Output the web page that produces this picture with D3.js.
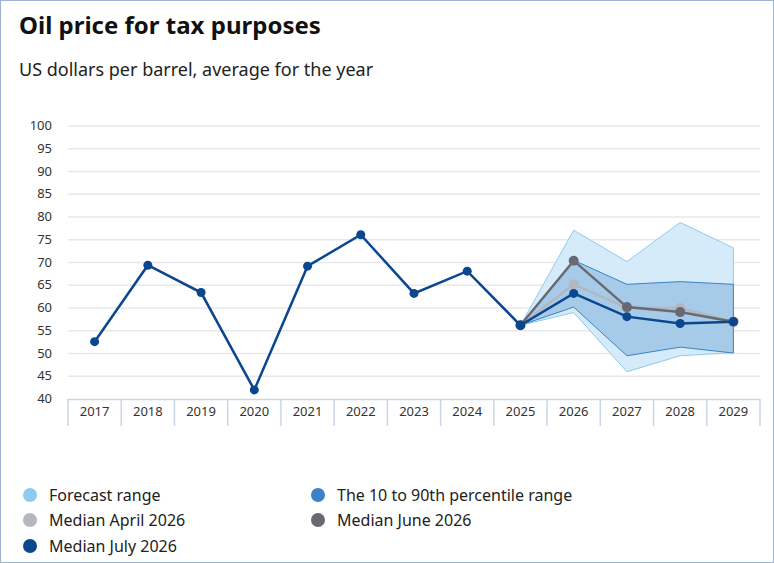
<!DOCTYPE html>
<html><head><meta charset="utf-8">
<script src="https://cdn.jsdelivr.net/npm/d3@7"></script>
<style>body{margin:0;font-family:"Noto Sans",sans-serif;}</style>
</head><body><div id="container"></div>
<script>
const years = [2017,2018,2019,2020,2021,2022,2023,2024,2025,2026,2027,2028,2029];
const history = [52.6,69.4,63.4,42.0,69.2,76.1,63.2,68.1,56.2];
const fcYears = [2025,2026,2027,2028,2029];
const medianJuly = [56.2,63.2,58.1,56.6,57.0];
const medianJune = [56.2,70.4,60.2,59.1,57.0];
const medianApril = [56.2,65.2,60.0,60.0,57.0];
const rangeHigh = [56.2,77.1,70.2,78.8,73.2];
const rangeLow = [56.2,59.0,46.0,49.5,50.2];
const pctHigh = [56.2,70.5,65.2,65.8,65.2];
const pctLow = [56.2,60.2,49.5,51.4,50.1];
const yTicks = d3.range(40,101,5);

const W = 774, H = 563;
const svg = d3.select("#container").append("svg").attr("width",W).attr("height",H);
svg.append("rect").attr("x",0.5).attr("y",0.5).attr("width",W-1).attr("height",H-1)
  .attr("fill","white").attr("stroke","#9fb4cf");

svg.append("text").attr("x",19).attr("y",34).attr("font-size",24).attr("font-weight",700)
  .attr("fill","#111").text("Oil price for tax purposes");
svg.append("text").attr("x",19).attr("y",76).attr("font-size",18).attr("fill","#222")
  .text("US dollars per barrel, average for the year");

const x = d3.scaleBand().domain(years).range([68,760]);
const cx = d => x(d) + x.bandwidth()/2;
const y = d3.scaleLinear().domain([40,100]).range([399,126]);

svg.selectAll(".grid").data(yTicks.slice(1)).join("line")
  .attr("x1",68).attr("x2",760).attr("y1",d=>y(d)).attr("y2",d=>y(d))
  .attr("stroke","#e8e8ec").attr("stroke-width",1.5);
svg.selectAll(".ytick").data(yTicks).join("text")
  .attr("x",52).attr("y",d=>y(d)+4).attr("text-anchor","end")
  .attr("font-size",13).attr("fill","#333").text(d=>d);

// category boxes
svg.append("line").attr("x1",68).attr("x2",760).attr("y1",399.5).attr("y2",399.5).attr("stroke","#c9d6ea").attr("stroke-width",1.5);
svg.selectAll(".sep").data(years.concat([null])).join("line")
  .attr("x1",(d,i)=>68+i*x.step()).attr("x2",(d,i)=>68+i*x.step())
  .attr("y1",399).attr("y2",426).attr("stroke","#c9d6ea").attr("stroke-width",1.5);
svg.selectAll(".xtick").data(years).join("text")
  .attr("x",d=>cx(d)).attr("y",416).attr("text-anchor","middle")
  .attr("font-size",13).attr("fill","#333").text(d=>d);

const area = (hi,lo) => d3.area().x((d,i)=>cx(fcYears[i])).y0((d,i)=>y(lo[i])).y1((d,i)=>y(hi[i]))(hi);
svg.append("path").attr("d",area(rangeHigh,rangeLow)).attr("fill","#d6ebfa").attr("stroke","#8ccaf0").attr("stroke-width",1);
svg.append("path").attr("d",area(pctHigh,pctLow)).attr("fill","#a5cbe9").attr("stroke","#3c82c6").attr("stroke-width",1);

const line = d3.line().x(d=>cx(d[0])).y(d=>y(d[1]));
function series(xs, vals, color, r){
  const pts = xs.map((d,i)=>[d,vals[i]]);
  svg.append("path").attr("d",line(pts)).attr("fill","none").attr("stroke",color).attr("stroke-width",2.5);
  svg.append("g").selectAll("circle").data(pts).join("circle")
    .attr("cx",d=>cx(d[0])).attr("cy",d=>y(d[1])).attr("r",r).attr("fill",color);
}
series(fcYears, medianApril, "#b4b7bf", 5);
series(fcYears, medianJune, "#686a73", 5);
series(years.slice(0,9), history, "#0b4690", 4.5);
series(fcYears, medianJuly, "#0b4690", 4.5);

const legend = [
  {t:"Forecast range", c:"#8ccaf0", x:30, y:495},
  {t:"The 10 to 90th percentile range", c:"#3c82c6", x:318, y:495},
  {t:"Median April 2026", c:"#b4b7bf", x:30, y:520},
  {t:"Median June 2026", c:"#686a73", x:318, y:520},
  {t:"Median July 2026", c:"#0b4690", x:30, y:546}
];
const lg = svg.append("g").selectAll("g").data(legend).join("g");
lg.append("circle").attr("cx",d=>d.x).attr("cy",d=>d.y).attr("r",7).attr("fill",d=>d.c);
lg.append("text").attr("x",d=>d.x+19).attr("y",d=>d.y+5.5).attr("font-size",16).attr("fill","#222").text(d=>d.t);
</script></body></html>
